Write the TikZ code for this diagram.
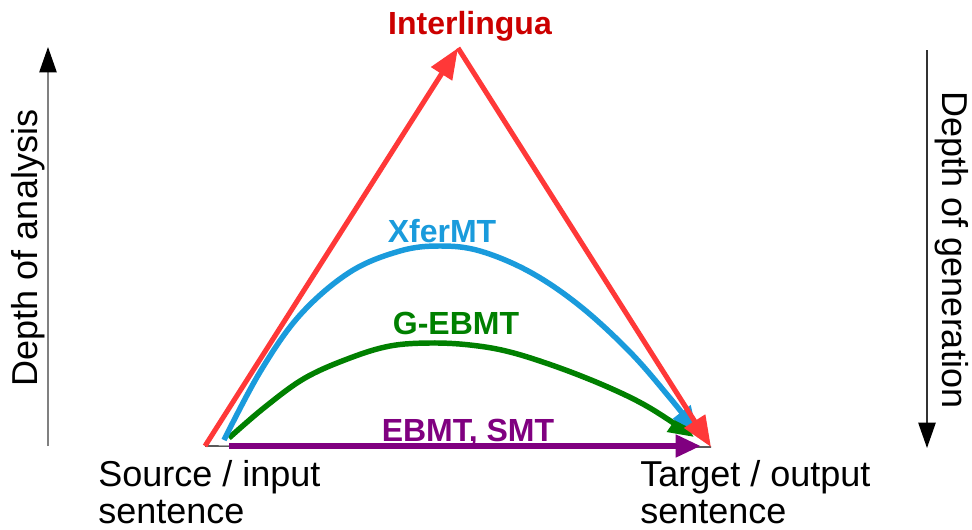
\documentclass[tikz,border=0pt]{standalone}
\usepackage{fontspec}
\setmainfont{Liberation Sans}
\usetikzlibrary{arrows.meta}
\definecolor{ilred}{HTML}{FF3838}
\definecolor{ildark}{HTML}{CC0000}
\definecolor{xblue}{HTML}{1A9BDC}
\definecolor{ggreen}{HTML}{008000}
\definecolor{epurple}{HTML}{800080}
\begin{document}
\begin{tikzpicture}[x=0.75pt,y=-0.75pt,
  plain/.style={font=\fontsize{27}{27.75}\selectfont, inner sep=0pt},
  tag/.style={font=\fontsize{24}{28}\selectfont\bfseries, inner sep=0pt},
  axis/.style={line width=1.1pt, -{Triangle[length=19pt,width=13pt,color=black]}},
  route/.style={line width=4.1pt, line cap=butt, -{Triangle[length=19pt,width=16pt]}}]
\useasboundingbox (0,0) rectangle (972,529);

% end points of the triangle
\coordinate (src) at (205,446);
\coordinate (apex) at (458,48);
\coordinate (tgt) at (711,447);

% axes
\coordinate (la0) at (48,446);
\coordinate (la1) at (48,47);
\coordinate (ra0) at (927,50);
\coordinate (ra1) at (927,448);
\draw[axis, draw=black!50] (la0) -- (la1);
\draw[axis, draw=black!80] (ra0) -- (ra1);
\node[plain, rotate=90] (ana) at (28,248) {Depth of analysis};
\node[plain, rotate=-90] (gen) at (952,250) {Depth of generation};

% baseline
\draw[line width=0.8pt] (src) -- (tgt);

% direct route
\coordinate (p0) at (229,446);
\coordinate (p1) at (701,446);
\draw[route, line width=5pt, draw=epurple] (p0) -- (p1);

% example based route
\coordinate (g0) at (229,438);
\coordinate (g1) at (694,437);
\draw[route, draw=ggreen] plot[smooth, tension=0.6] coordinates
  {(g0) (265,407) (305,378) (350,358) (390,346) (430,343) (470,345) (510,352) (560,368) (610,388) (650,408) (g1)};

% transfer route
\coordinate (b0) at (224,440);
\coordinate (b1) at (697,432);
\draw[route, draw=xblue] plot[smooth, tension=0.6] coordinates
  {(b0) (260,372) (300,315) (350,272) (400,251) (440,246) (480,251) (530,272) (580,306) (630,352) (670,398) (b1)};

% interlingua route
\draw[route, line width=3.8pt, draw=ilred, -{Triangle[length=23pt,width=18pt]}] (src) -- (apex);
\draw[route, line width=3.8pt, draw=ilred, -{Triangle[length=23pt,width=18pt]}] (apex) -- (tgt);

% labels
\node[tag, text=ildark] (il) at (470,26) {Interlingua};
\node[tag, text=xblue] (xf) at (442,231) {XferMT};
\node[tag, text=ggreen] (ge) at (456,323) {G-EBMT};
\node[tag, text=epurple] (eb) at (468,433) {EBMT, SMT};

\node[plain, align=left, anchor=base west] (srct) at (98,523) {Source / input\\sentence};
\node[plain, align=left, anchor=base west] (tgtt) at (640,523) {Target / output\\sentence};
\end{tikzpicture}
\end{document}
